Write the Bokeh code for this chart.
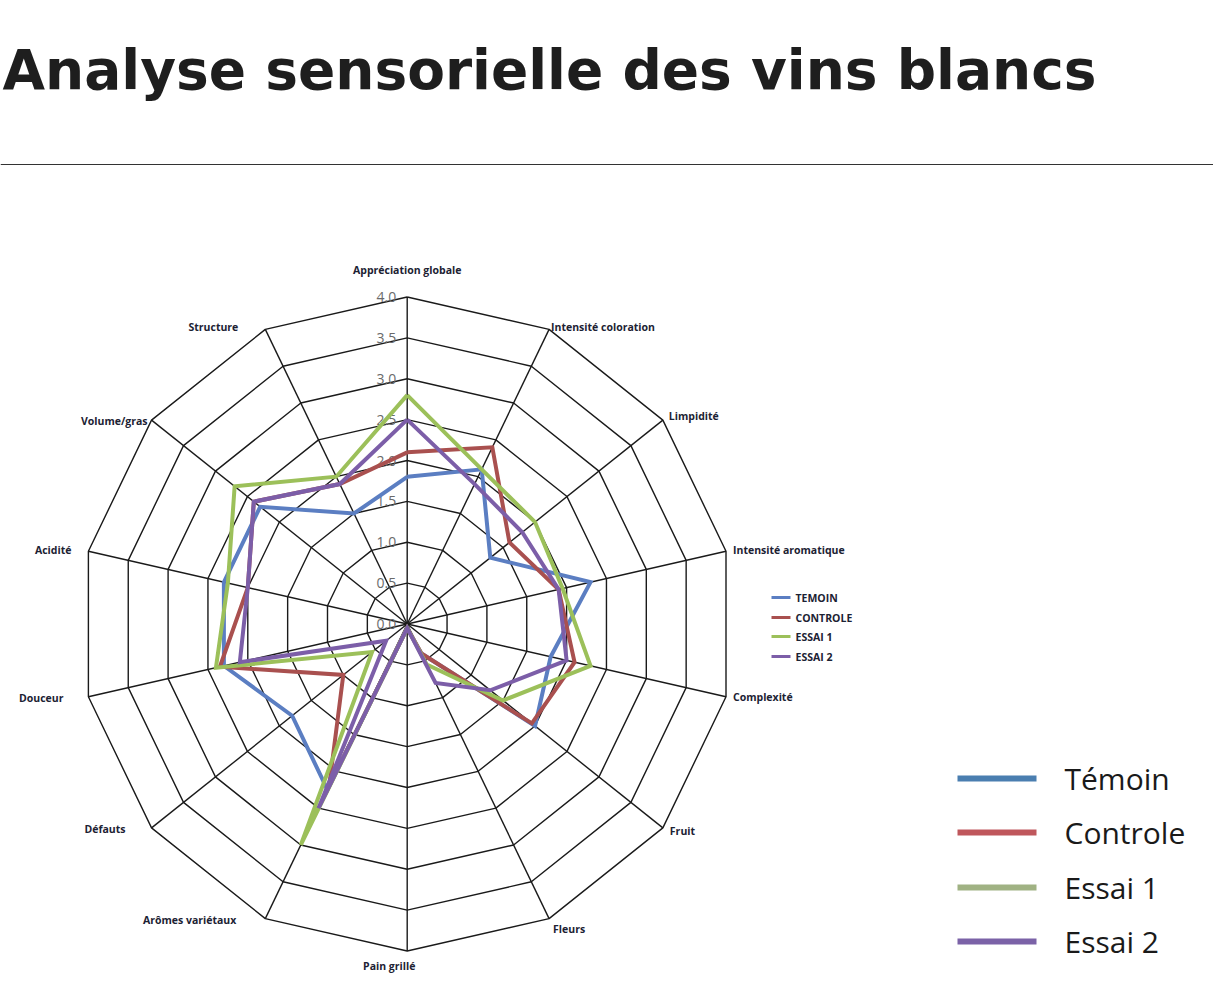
import numpy as np
from bokeh.plotting import figure
from bokeh.models import Range1d, Span, Label
from bokeh.core.properties import value
from bokeh.embed import file_html
from bokeh.resources import INLINE

# ---------------- data ----------------
categories = ["Appréciation globale", "Intensité coloration", "Limpidité",
              "Intensité aromatique", "Complexité", "Fruit", "Fleurs",
              "Pain grillé", "Arômes variétaux", "Défauts", "Douceur",
              "Acidité", "Volume/gras", "Structure"]
temoin   = [1.8, 2.1, 1.3, 2.3, 1.8, 2.0, 0.4, 0.05, 2.25, 1.8, 2.3, 2.3, 2.3, 1.5]
controle = [2.1, 2.4, 1.6, 1.9, 2.1, 1.95, 0.4, 0.05, 2.2, 1.0, 2.35, 2.0, 2.4, 1.9]
essai1   = [2.8, 2.1, 2.0, 1.95, 2.3, 1.5, 0.55, 0.05, 3.0, 0.55, 2.4, 2.25, 2.7, 2.0]
essai2   = [2.5, 1.9, 1.8, 1.9, 2.0, 1.3, 0.8, 0.05, 2.5, 0.33, 2.1, 2.0, 2.4, 1.9]
series_names = ["TEMOIN", "CONTROLE", "ESSAI 1", "ESSAI 2"]
legend_names = ["Témoin", "Controle", "Essai 1", "Essai 2"]
tick_values = [0.0, 0.5, 1.0, 1.5, 2.0, 2.5, 3.0, 3.5, 4.0]
tick_labels = ["0.0", "0.5", "1.0", "1.5", "2.0", "2.5", "3.0", "3.5", "4.0"]
title_text = "Analyse sensorielle des vins blancs"

series = [temoin, controle, essai1, essai2]
chart_colors = ["#5b7ec2", "#a9504f", "#9cc05a", "#7c5ea8"]
legend_colors = ["#4a7eb0", "#bf575c", "#a0b283", "#7b62a7"]

# ---------------- layout (pixel geometry) ----------------
W, H = 1213, 975
cx, cy = 406.7, 623.5      # radar centre in screenshot pixels
s = 81.75                  # pixels per unit

def px(X):
    return (X - cx) / s

def py(Y):
    return (cy - Y) / s

p = figure(width=W, height=H, output_backend="svg", toolbar_location=None,
           x_axis_type=None, y_axis_type=None, min_border=0,
           x_range=Range1d(px(0), px(W)), y_range=Range1d(py(H), py(0)))
p.outline_line_color = None
p.background_fill_color = "white"

n = len(categories)
theta = np.arange(n) * 2 * np.pi / n
sx, sy = np.sin(theta), np.cos(theta)
rmax = tick_values[-1]

# rings
for r in tick_values[1:]:
    xs = list(r * sx) + [r * sx[0]]
    ys = list(r * sy) + [r * sy[0]]
    p.line(xs, ys, line_color="#1a1a1a", line_width=1.4)
# spokes
p.segment(x0=[0] * n, y0=[0] * n, x1=list(rmax * sx), y1=list(rmax * sy),
          line_color="#1a1a1a", line_width=1.4)

# tick labels
p.text(x=[0] * len(tick_values), y=tick_values, text=tick_labels,
       text_font=value("Open Sans"), text_font_size="14px", text_color="#6a6a6a",
       text_align="right", text_baseline="middle", x_offset=-11)

# series
for vals, c in zip(series, chart_colors):
    v = np.array(vals)
    xs = list(v * sx) + [v[0] * sx[0]]
    ys = list(v * sy) + [v[0] * sy[0]]
    p.line(xs, ys, line_color=c, line_width=4, line_join="miter")

# category labels (label placement offsets in pixels, per spoke)
label_dx = [0, 2, 6, 7, 7, 7, 4, -18, -29, -26, -25, -17, -4, -27]
label_dy = [-20, -2, -4, -1, 0, 3, 10, 8, 1, 1, 1, -1, 1, -2]
lab_color = "#1c2233"
lx, ly = rmax * sx, rmax * sy
font = value("Open Sans")
groups = [([0], "center", "bottom"), ([7], "center", "top"),
          ([i for i in range(n) if 0 < i < n / 2], "left", "middle"),
          ([i for i in range(n) if i > n / 2], "right", "middle")]
for idx, align, base in groups:
    p.text(x=[lx[i] for i in idx], y=[ly[i] for i in idx],
           text=[categories[i] for i in idx],
           x_offset=[label_dx[i] for i in idx], y_offset=[label_dy[i] for i in idx],
           text_font=font, text_font_size="10.5px", text_font_style="bold",
           text_color=lab_color, text_align=align, text_baseline=base)

# inner (small) legend
inner_y = [597, 617, 636, 656]
for name, c, Y in zip(series_names, chart_colors, inner_y):
    p.segment(x0=[px(771)], y0=[py(Y)], x1=[px(790)], y1=[py(Y)], line_color=c, line_width=3)
    p.text(x=[px(795)], y=[py(Y)], text=[name], text_font=font, text_font_size="10.5px",
           text_font_style="bold", text_color=lab_color, text_baseline="middle")

# outer legend
outer_y = [778, 832, 887, 941]
for name, c, Y in zip(legend_names, legend_colors, outer_y):
    p.segment(x0=[px(957)], y0=[py(Y)], x1=[px(1036)], y1=[py(Y)], line_color=c, line_width=6)
    p.text(x=[px(1064)], y=[py(Y)], text=[name], text_font=font, text_font_size="30px",
           text_color="#1a1a1a", text_baseline="middle")

# title and rule
p.add_layout(Label(x=px(2), y=py(69), text=title_text, text_font="DejaVu Sans",
                   text_font_style="bold", text_font_size="55px", text_color="#1e1e1e",
                   text_baseline="alphabetic"))
p.add_layout(Span(location=py(164), dimension="width", line_color="#333333", line_width=1))

open("out.html", "w").write(file_html(p, INLINE))
